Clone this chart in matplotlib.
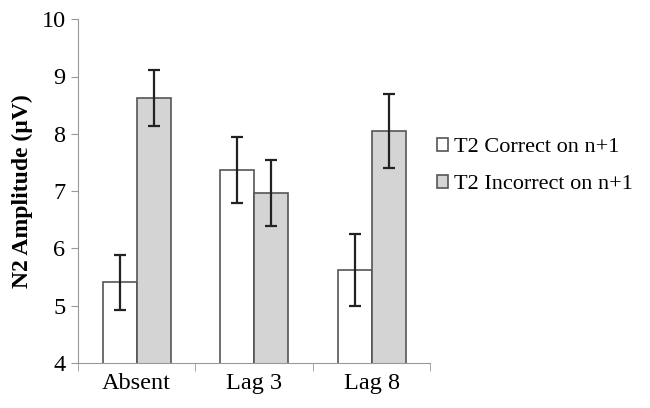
import numpy as np
import matplotlib.pyplot as plt

plt.rcParams['font.family'] = ['Liberation Serif', 'DejaVu Serif']

categories = ['Absent', 'Lag 3', 'Lag 8']
correct = [5.41, 7.37, 5.63]
correct_err = [0.48, 0.58, 0.63]
incorrect = [8.62, 6.97, 8.05]
incorrect_err = [0.49, 0.58, 0.64]

fig = plt.figure(figsize=(6.5, 4.08), dpi=100)
ax = fig.add_axes([0.12, 0.11, 0.542, 0.843])

x = np.arange(len(categories))
w = 0.29
ekw = dict(elinewidth=1.6, capsize=4.5, capthick=1.6, ecolor='#222222')
ax.bar(x - w / 2, correct, w, yerr=correct_err, color='white', edgecolor='#555555',
       linewidth=1.2, error_kw=ekw, label='T2 Correct on n+1')
ax.bar(x + w / 2, incorrect, w, yerr=incorrect_err, color='#d4d4d4', edgecolor='#555555',
       linewidth=1.2, error_kw=ekw, label='T2 Incorrect on n+1')

ax.set_ylim(4, 10)
ax.set_xlim(-0.5, 2.5)
ax.set_yticks(range(4, 11))
ax.set_xticks(x)
ax.set_xticklabels(categories, fontsize=17.5)
ax.set_xticks([-0.5, 0.5, 1.5, 2.5], minor=True)
ax.tick_params(axis='x', which='major', length=0, pad=7)
ax.tick_params(axis='x', which='minor', length=6, color='#999999')
ax.tick_params(axis='y', labelsize=17.5, length=5, color='#999999', pad=4)
for s in ['top', 'right']:
    ax.spines[s].set_visible(False)
for s in ['left', 'bottom']:
    ax.spines[s].set_color('#999999')
ax.set_ylabel('N2 Amplitude (\u00b5V)', fontsize=17, fontweight='bold', labelpad=6)

ax.legend(loc='upper left', bbox_to_anchor=(0.975, 0.70), frameon=False, fontsize=16,
          handlelength=0.5, handleheight=0.5, handletextpad=0.25, labelspacing=0.8,
          borderaxespad=0.3)

fig.savefig('out.png', dpi=100)
